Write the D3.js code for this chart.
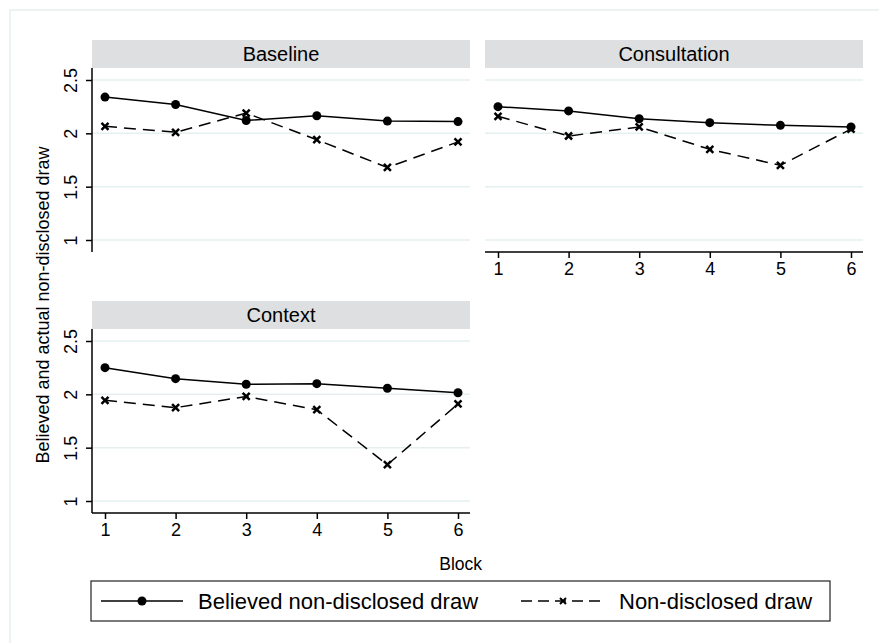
<!DOCTYPE html>
<html lang="en">
<head>
<meta charset="utf-8">
<title>Believed and actual non-disclosed draw by block</title>
<script src="https://cdn.jsdelivr.net/npm/d3@7"></script>
<style>
  body { margin: 0; background: #fff; }
  svg { display: block; font-family: Arial, "Liberation Sans", sans-serif; }
</style>
</head>
<body>
<script>
// data
var blocks = [1, 2, 3, 4, 5, 6];
var panelNames = ["Baseline", "Consultation", "Context"];
var yTicks = [1, 1.5, 2, 2.5];
var seriesNames = ["Believed non-disclosed draw", "Non-disclosed draw"];

var believedBaseline     = [2.34, 2.27, 2.12, 2.165, 2.115, 2.11];
var actualBaseline       = [2.066, 2.01, 2.19, 1.94, 1.68, 1.92];
var believedConsultation = [2.25, 2.21, 2.137, 2.10, 2.075, 2.06];
var actualConsultation   = [2.16, 1.975, 2.06, 1.85, 1.70, 2.04];
var believedContext      = [2.25, 2.147, 2.095, 2.10, 2.057, 2.015];
var actualContext        = [1.944, 1.875, 1.98, 1.856, 1.34, 1.91];

var believed = [believedBaseline, believedConsultation, believedContext];
var actual = [actualBaseline, actualConsultation, actualContext];

var w = 879, h = 643;
var svg = d3.select("body").append("svg").attr("width", w).attr("height", h);

// faint graph region frame
svg.append("path")
  .attr("d", "M10," + (h + 5) + "V10H" + (w + 5))
  .attr("fill", "none")
  .attr("stroke", "#e6eff0")
  .attr("stroke-width", 1.5);

// panel layout
var cols = [{x0: 92, x1: 470}, {x0: 485, x1: 863}];
var rows = [{s0: 40, p0: 68, p1: 252}, {s0: 301, p0: 329, p1: 513}];

function drawPanel(i) {
  var c = cols[i % 2], r = rows[Math.floor(i / 2)];
  var x = d3.scaleLinear().domain([1, 6]).range([c.x0 + 13, c.x1 - 12]);
  var y = d3.scaleLinear().domain([1, 2.5]).range([r.p1 - 12, r.p0 + 12]);
  var g = svg.append("g");

  // strip
  g.append("rect")
    .attr("x", c.x0).attr("y", r.s0)
    .attr("width", c.x1 - c.x0).attr("height", r.p0 - r.s0)
    .attr("fill", "#dddfe0");
  g.append("text")
    .attr("x", (c.x0 + c.x1) / 2).attr("y", r.s0 + 20.5)
    .attr("text-anchor", "middle")
    .attr("font-size", "20px")
    .attr("fill", "#000")
    .text(panelNames[i]);

  // grid lines
  g.selectAll(".grid").data(yTicks).enter().append("line")
    .attr("x1", c.x0).attr("x2", c.x1)
    .attr("y1", function(d) { return y(d); })
    .attr("y2", function(d) { return y(d); })
    .attr("stroke", "#e6eff0")
    .attr("stroke-width", 1.5);

  // y axis only in left column
  if (i % 2 == 0) {
    var ya = g.append("g")
      .attr("transform", "translate(" + c.x0 + ",0)")
      .call(d3.axisLeft(y).tickValues(yTicks).tickSize(6).tickPadding(3)
        .tickFormat(d3.format("")));
    ya.select(".domain").attr("d", "M0," + r.p0 + "V" + r.p1)
      .attr("stroke-width", 1.5);
    ya.selectAll(".tick line").attr("stroke-width", 1.5);
    ya.selectAll(".tick text")
      .style("font-size", "18px")
      .attr("font-family", "Arial, 'Liberation Sans', sans-serif")
      .attr("transform", "rotate(-90)")
      .attr("x", 0).attr("y", -15)
      .attr("dy", 0)
      .attr("text-anchor", "middle");
  }

  // x axis on bottom panels of each column
  if (i >= 1) {
    var xa = g.append("g")
      .attr("transform", "translate(0," + r.p1 + ")")
      .call(d3.axisBottom(x).tickValues(blocks).tickSize(6).tickPadding(4)
        .tickFormat(d3.format("d")));
    xa.select(".domain").attr("d", "M" + c.x0 + ",0H" + c.x1)
      .attr("stroke-width", 1.5);
    xa.selectAll(".tick line").attr("stroke-width", 1.5);
    xa.selectAll(".tick text")
      .style("font-size", "18px")
      .attr("font-family", "Arial, 'Liberation Sans', sans-serif");
  }

  var line = d3.line()
    .x(function(d, j) { return x(blocks[j]); })
    .y(function(d) { return y(d); });

  // non-disclosed draw (dashed, x markers)
  g.append("path").datum(actual[i])
    .attr("d", line)
    .attr("fill", "none")
    .attr("stroke", "#000")
    .attr("stroke-width", 1.5)
    .attr("stroke-dasharray", "12,7");
  g.selectAll(".xm").data(actual[i]).enter().append("path")
    .attr("d", function(d, j) {
      var cx = x(blocks[j]), cy = y(d), s = 3.5;
      return "M" + (cx - s) + "," + (cy - s) + "L" + (cx + s) + "," + (cy + s) +
             "M" + (cx - s) + "," + (cy + s) + "L" + (cx + s) + "," + (cy - s);
    })
    .attr("stroke", "#000")
    .attr("stroke-width", 2.5);

  // believed (solid, circles)
  g.append("path").datum(believed[i])
    .attr("d", line)
    .attr("fill", "none")
    .attr("stroke", "#000")
    .attr("stroke-width", 1.5);
  g.selectAll(".cm").data(believed[i]).enter().append("circle")
    .attr("cx", function(d, j) { return x(blocks[j]); })
    .attr("cy", function(d) { return y(d); })
    .attr("r", 4.5)
    .attr("fill", "#000");
}

panelNames.forEach(function(p, i) { drawPanel(i); });

// axis titles
svg.append("text")
  .attr("transform", "translate(49,305) rotate(-90)")
  .attr("text-anchor", "middle")
  .attr("font-size", "18px")
  .text("Believed and actual non-disclosed draw");

svg.append("text")
  .attr("x", 482).attr("y", 570)
  .attr("text-anchor", "end")
  .attr("font-size", "17.5px")
  .text("Block");

// legend
var lg = svg.append("g");
lg.append("rect")
  .attr("x", 91).attr("y", 581)
  .attr("width", 739).attr("height", 40)
  .attr("fill", "#fff")
  .attr("stroke", "#333")
  .attr("stroke-width", 1.3);

var ly = 601;
lg.append("line").attr("x1", 101).attr("x2", 183).attr("y1", ly).attr("y2", ly)
  .attr("stroke", "#000").attr("stroke-width", 1.5);
lg.append("circle").attr("cx", 142).attr("cy", ly).attr("r", 4.5).attr("fill", "#000");
lg.append("text").attr("x", 198).attr("y", 609).attr("font-size", "22px")
  .text(seriesNames[0]);

lg.append("line").attr("x1", 521).attr("x2", 604).attr("y1", ly).attr("y2", ly)
  .attr("stroke", "#000").attr("stroke-width", 1.5)
  .attr("stroke-dasharray", "11,6");
var s = 3;
lg.append("path")
  .attr("d", "M" + (563 - s) + "," + (ly - s) + "L" + (563 + s) + "," + (ly + s) +
             "M" + (563 - s) + "," + (ly + s) + "L" + (563 + s) + "," + (ly - s))
  .attr("stroke", "#000").attr("stroke-width", 2);
lg.append("text").attr("x", 619).attr("y", 609).attr("font-size", "22px")
  .text(seriesNames[1]);
</script>
</body>
</html>
